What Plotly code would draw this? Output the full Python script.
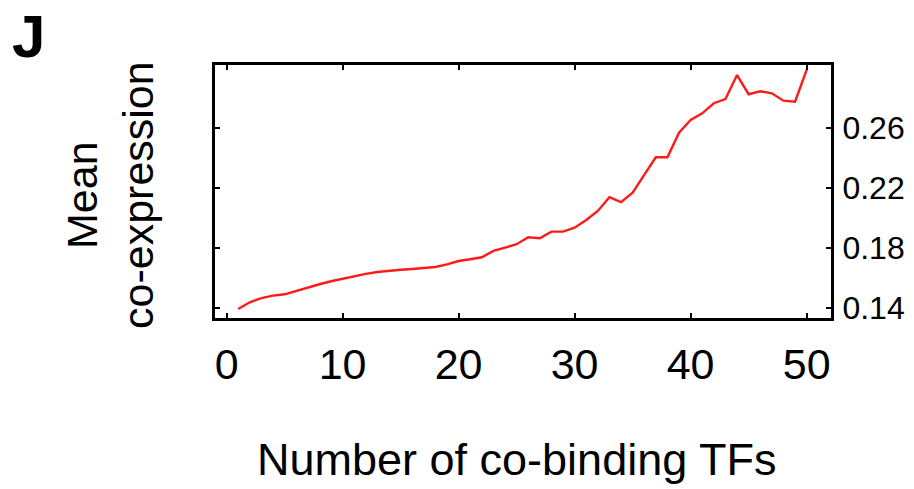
import plotly.graph_objects as go

# Number of co-binding TFs and the mean co-expression of their targets
n_tfs = list(range(1, 51))
mean_coexpr = [
    0.1395, 0.1440, 0.1467, 0.1484, 0.1493, 0.1517, 0.1540, 0.1560, 0.1580, 0.1597,
    0.1613, 0.1629, 0.1642, 0.1651, 0.1657, 0.1662, 0.1667, 0.1675, 0.1693, 0.1715,
    0.1727, 0.1740, 0.1782, 0.1804, 0.1827, 0.1873, 0.1867, 0.1911, 0.1911, 0.1937,
    0.1989, 0.2049, 0.2140, 0.2107, 0.2171, 0.2289, 0.2407, 0.2407, 0.2571, 0.2655,
    0.2700, 0.2767, 0.2795, 0.2955, 0.2827, 0.2847, 0.2833, 0.2784, 0.2777, 0.2989,
]

x_ticks = [0, 10, 20, 30, 40, 50]
y_ticks = [0.14, 0.18, 0.22, 0.26]
y_tick_text = ["0.14", "0.18", "0.22", "0.26"]

FONT = "Liberation Sans, Arial, Helvetica, sans-serif"

# plot-area geometry in pixels
W, H = 914, 489
L, R, T, B = 215, 83, 65, 171
PW, PH = W - L - R, H - T - B


def px_x(px):
    return (px - L) / PW


def px_y(py):
    return (H - B - py) / PH


fig = go.Figure()
fig.add_trace(go.Scatter(
    x=n_tfs, y=mean_coexpr, mode="lines",
    line=dict(color="#ff1a1a", width=2.4),
    showlegend=False,
))

axis_common = dict(
    showline=True, linecolor="black", linewidth=3, mirror="ticks",
    ticks="inside", ticklen=5, tickwidth=2, tickcolor="black",
    showgrid=False, zeroline=False, automargin=False,
)

fig.update_layout(
    width=W, height=H,
    margin=dict(l=L, r=R, t=T, b=B, autoexpand=False),
    paper_bgcolor="white", plot_bgcolor="white",
    xaxis=dict(range=[-1.0, 52.1], tickvals=x_ticks, ticklabelstandoff=6,
               tickfont=dict(family=FONT, size=43, color="black"), **axis_common),
    yaxis=dict(range=[0.1335, 0.3022], tickvals=y_ticks, ticktext=y_tick_text,
               side="right", ticklabelstandoff=2,
               tickfont=dict(family=FONT, size=32, color="black"), **axis_common),
    annotations=[
        dict(text="<b>J</b>", x=px_x(10), y=px_y(1), xref="paper", yref="paper",
             xanchor="left", yanchor="top", showarrow=False,
             font=dict(family=FONT, size=60, color="black")),
        dict(text="Number of co-binding TFs", x=px_x(516), y=px_y(460),
             xref="paper", yref="paper",
             xanchor="center", yanchor="middle", showarrow=False,
             font=dict(family=FONT, size=45, color="black")),
        dict(text="Mean<br>co-expression", x=px_x(110), y=px_y(195),
             xref="paper", yref="paper",
             xanchor="center", yanchor="middle", showarrow=False, textangle=-90,
             font=dict(family=FONT, size=43, color="black")),
    ],
)

fig.write_html("out.html")
